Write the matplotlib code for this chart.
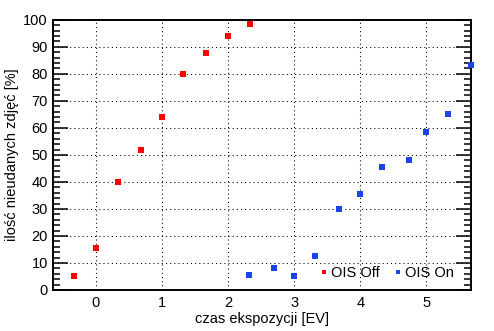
import matplotlib.pyplot as plt

plt.rcParams['font.family'] = ['Liberation Sans', 'DejaVu Sans']

# dane
ev_off = [-0.33, 0.0, 0.33, 0.69, 1.0, 1.32, 1.67, 2.0, 2.33]
fail_off = [5.0, 15.4, 39.9, 51.7, 64.0, 79.9, 87.6, 94.0, 98.4]

ev_on = [2.32, 2.69, 3.0, 3.32, 3.67, 4.0, 4.33, 4.74, 5.0, 5.32, 5.67]
fail_on = [5.4, 8.0, 5.1, 12.5, 29.9, 35.4, 45.4, 48.0, 58.4, 65.1, 83.3]

x_ticks = [0, 1, 2, 3, 4, 5]
y_ticks = [0, 10, 20, 30, 40, 50, 60, 70, 80, 90, 100]

fig = plt.figure(figsize=(4.94, 3.31), dpi=100)
ax = fig.add_subplot(111)
fig.subplots_adjust(left=0.107, right=0.953, top=0.94, bottom=0.124)

ax.plot(ev_off, fail_off, 's', color='#ff0000', markersize=4.3, markeredgewidth=0,
        label='OIS Off', clip_on=False, zorder=3)
ax.plot(ev_on, fail_on, 's', color='#1a44e8', markersize=4.3, markeredgewidth=0,
        label='OIS On', clip_on=False, zorder=3)

ax.set_xlim(-0.65, 5.67)
ax.set_ylim(0, 100)
ax.set_xticks(x_ticks)
ax.set_yticks(y_ticks)
ax.set_yticks(range(0, 101, 2), minor=True)

ax.tick_params(axis='y', which='major', direction='in', length=11, width=1.1,
               left=True, right=True, labelsize=10.5, pad=3.5)
ax.tick_params(axis='y', which='minor', direction='in', length=5, width=1.1,
               left=True, right=True)
ax.tick_params(axis='x', which='both', length=0, labelsize=10.5, pad=4)

ax.grid(True, color='black', linestyle=(0, (1, 3)), linewidth=0.75)
ax.set_axisbelow(True)
for s in ax.spines.values():
    s.set_linewidth(1.4)

ax.set_xlabel('czas ekspozycji [EV]', fontsize=10.5, labelpad=2)
ax.set_ylabel('ilość nieudanych zdjęć [%]', fontsize=10.5, labelpad=3)

ax.legend(loc='lower right', bbox_to_anchor=(0.977, 0.01), ncol=2, frameon=False,
          fontsize=10.5, borderpad=0, handlelength=0.4, handletextpad=0.3,
          columnspacing=1.0, markerscale=0.8)

fig.savefig('out.png', dpi=100)
